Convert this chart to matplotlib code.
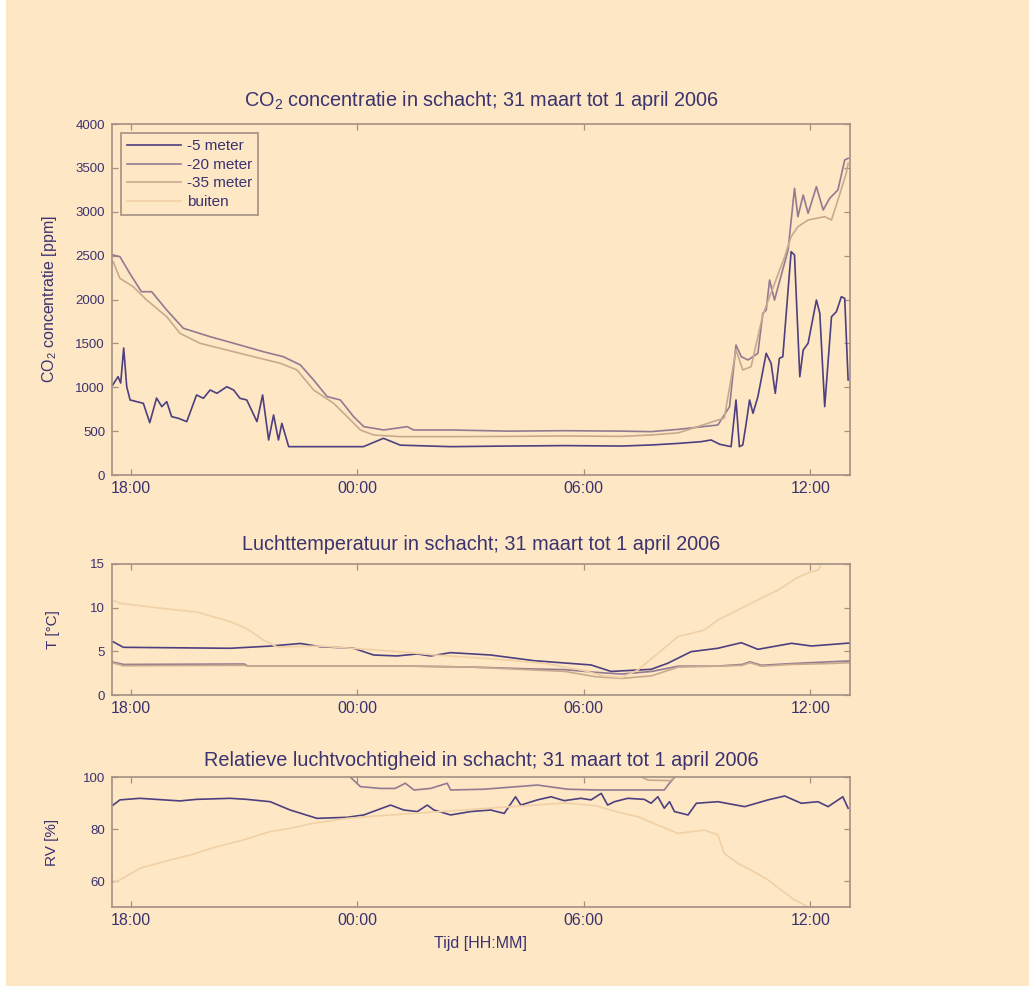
import matplotlib
matplotlib.use("Agg")
import matplotlib.pyplot as plt
from matplotlib.patches import Rectangle

# ---------------- data (time in hours relative to 1 April 2006 00:00) ----------------
series_labels = ["-5 meter", "-20 meter", "-35 meter", "buiten"]
tick_hours = [-6, 0, 6, 12]
tick_labels = ["18:00", "00:00", "06:00", "12:00"]

# CO2 [ppm]
co2_t_5 = [-6.48, -6.34, -6.27, -6.19, -6.11, -6.02, -5.67, -5.50, -5.32, -5.18, -5.05, -4.92,
           -4.74, -4.52, -4.26, -4.08, -3.90, -3.72, -3.46, -3.28, -3.11, -2.93, -2.66, -2.51,
           -2.35, -2.22, -2.09, -2.00, -1.82, 0.16, 0.69, 1.14, 2.47, 4.0, 5.5, 7.0, 7.78, 8.5,
           9.11, 9.37, 9.6, 9.90, 10.03, 10.12, 10.21, 10.30, 10.39, 10.48, 10.61, 10.83, 10.96,
           11.07, 11.18, 11.27, 11.49, 11.58, 11.72, 11.81, 11.94, 12.16, 12.25, 12.38, 12.56,
           12.69, 12.82, 12.91, 13.00]
co2_5 = [1026, 1120, 1048, 1447, 1006, 855, 817, 596, 877, 779, 836, 665,
         646, 608, 912, 874, 969, 931, 1006, 969, 874, 855, 608, 912,
         399, 684, 399, 589, 323, 323, 418, 340, 323, 330, 335, 330, 342, 360,
         380, 399, 350, 323, 855, 323, 342, 589, 855, 703, 893, 1387, 1273,
         931, 1330, 1348, 2545, 2507, 1120, 1424, 1501, 1994, 1843, 779, 1804,
         1861, 2032, 2013, 1083]

co2_t_20 = [-6.47, -6.29, -6.03, -5.72, -5.45, -5.05, -4.61, -3.90, -3.11, -2.49, -1.96, -1.51,
            -1.16, -0.80, -0.45, -0.10, 0.17, 0.70, 1.32, 1.49, 2.47, 4.0, 5.5, 7.0, 7.78, 8.5,
            9.55, 9.86, 10.03, 10.17, 10.35, 10.61, 10.74, 10.83, 10.92, 11.05, 11.41, 11.58,
            11.67, 11.81, 11.94, 12.16, 12.34, 12.51, 12.73, 12.91, 13.00]
co2_20 = [2507, 2488, 2298, 2089, 2089, 1880, 1672, 1576, 1481, 1405, 1348, 1254,
          1083, 893, 855, 665, 551, 513, 551, 513, 513, 500, 505, 500, 494, 520,
          570, 779, 1481, 1348, 1311, 1387, 1843, 1880, 2222, 1994, 2564, 3267,
          2944, 3191, 2982, 3286, 3020, 3153, 3248, 3590, 3609]

co2_t_35 = [-6.47, -6.29, -5.94, -5.58, -5.05, -4.70, -4.17, -3.28, -2.58, -2.04, -1.60, -1.16,
            -0.63, -0.27, 0.08, 0.43, 1.14, 2.47, 4.0, 5.5, 7.0, 7.78, 8.5, 9.72, 10.03, 10.21,
            10.43, 10.74, 10.92, 11.32, 11.49, 11.67, 11.94, 12.38, 12.56, 12.73, 12.95, 13.00]
co2_35 = [2431, 2241, 2146, 1994, 1804, 1615, 1501, 1405, 1330, 1273, 1197, 969,
          817, 665, 513, 456, 437, 437, 440, 445, 440, 456, 480, 650, 1424, 1197,
          1234, 1823, 2032, 2488, 2716, 2830, 2906, 2944, 2906, 3134, 3438, 3552]

# Temperature [deg C]
temp_t_5 = [-6.47, -6.2, -3.37, -2.31, -1.51, -0.98, -0.1, 0.43, 1.05, 1.58, 1.94, 2.47,
            3.53, 4.68, 6.19, 6.72, 7.78, 8.22, 8.84, 9.55, 10.17, 10.61, 11.5, 12.03, 12.95, 13.05]
temp_5 = [6.1, 5.46, 5.35, 5.6, 5.9, 5.53, 5.35, 4.58, 4.47, 4.7, 4.47, 4.85,
          4.58, 3.93, 3.44, 2.7, 2.94, 3.63, 4.96, 5.35, 5.99, 5.23, 5.92, 5.61, 5.92, 5.95]

temp_t_20 = [-6.5, -6.2, -3.0, -2.9, 1.5, 3.0, 4.5, 5.5, 6.3, 7.0, 7.8, 8.5, 9.5, 10.2,
             10.4, 10.7, 11.5, 12.5, 13.05]
temp_20 = [3.8, 3.5, 3.55, 3.3, 3.3, 3.2, 3.0, 2.9, 2.6, 2.4, 2.7, 3.3, 3.3, 3.5,
           3.8, 3.4, 3.6, 3.8, 3.9]

temp_t_35 = [-6.5, -6.2, -3.0, -2.9, 1.5, 3.0, 4.5, 5.5, 6.3, 7.0, 7.8, 8.5, 9.5, 10.2,
             10.4, 10.7, 11.5, 12.5, 13.05]
temp_35 = [3.7, 3.35, 3.4, 3.3, 3.3, 3.2, 2.9, 2.7, 2.1, 1.9, 2.2, 3.2, 3.3, 3.4,
           3.7, 3.3, 3.5, 3.6, 3.7]

temp_t_out = [-6.45, -6.29, -5.14, -4.26, -3.37, -2.93, -2.49, -2.13, -1.0, 0.0, 1.0, 2.0,
              3.0, 4.0, 5.0, 6.0, 6.5, 7.0, 7.43, 7.96, 8.49, 9.19, 9.55, 10.08, 10.61,
              11.14, 11.67, 12.02, 12.2, 12.3, 13.05]
temp_out = [10.8, 10.5, 9.9, 9.5, 8.4, 7.6, 6.3, 5.5, 5.6, 5.3, 5.0, 4.6,
            4.3, 4.0, 3.6, 2.8, 2.2, 2.0, 2.86, 4.77, 6.68, 7.44, 8.59, 9.73, 10.9,
            12.0, 13.5, 14.1, 14.3, 15.0, 15.6]

# Relative humidity [%]
rh_t_5 = [-6.47, -6.29, -5.76, -4.70, -4.26, -3.37, -2.93, -2.31, -1.78, -1.07, -0.27, 0.17,
          0.88, 1.23, 1.59, 1.85, 2.03, 2.47, 3.00, 3.53, 3.89, 4.19, 4.33, 4.77, 5.13, 5.48,
          5.92, 6.19, 6.46, 6.63, 6.81, 7.16, 7.60, 7.78, 7.96, 8.13, 8.27, 8.40, 8.76, 8.98,
          9.55, 10.26, 10.88, 11.32, 11.76, 12.20, 12.47, 12.86, 13.00]
rh_5 = [89.2, 91.2, 91.8, 90.8, 91.4, 91.8, 91.4, 90.5, 87.3, 84.1, 84.5, 85.4,
        89.2, 87.3, 86.7, 89.2, 87.3, 85.4, 86.7, 87.3, 86.0, 92.4, 89.2, 91.2, 92.4, 90.9,
        91.8, 91.2, 93.7, 89.2, 90.5, 91.8, 91.4, 89.9, 92.4, 88.0, 90.5, 86.7, 85.4, 89.9,
        90.5, 88.6, 91.2, 92.7, 89.9, 90.5, 88.6, 92.4, 88.0]

rh_t_20 = [-6.5, -0.5, -0.19, 0.08, 0.61, 1.0, 1.27, 1.5, 1.94, 2.38, 2.47, 3.35, 4.24,
           4.77, 5.57, 6.36, 7.33, 8.13, 8.26, 8.44, 8.6, 13.05]
rh_20 = [103, 103, 100, 96.3, 95.6, 95.6, 97.6, 95.0, 95.6, 97.6, 95.0, 95.3, 96.3,
         96.9, 95.3, 95.0, 95.0, 95.0, 97.5, 100.5, 103, 103]

rh_t_35 = [-6.5, 7.3, 7.5, 7.7, 8.3, 8.45, 8.7, 13.05]
rh_35 = [103, 103, 100.2, 98.8, 98.6, 100.5, 103, 103]

rh_t_out = [-6.45, -6.29, -5.76, -5.14, -4.43, -3.72, -3.02, -2.31, -1.78, -1.16, -0.27, 0.5,
            1.5, 2.5, 3.5, 4.5, 5.5, 6.3, 6.9, 7.43, 7.96, 8.49, 9.19, 9.55, 9.72, 10.08,
            10.43, 10.88, 11.23, 11.58, 11.85, 12.1]
rh_out = [59.5, 60.4, 64.9, 67.4, 70.0, 73.2, 75.8, 79.0, 80.3, 82.2, 84.1, 85.0,
          86.0, 87.0, 88.0, 89.0, 90.0, 89.0, 86.5, 84.7, 81.5, 78.3, 79.6, 77.7, 70.6, 66.8,
          64.2, 60.4, 56.5, 52.7, 50.8, 48.0]

# ---------------- style ----------------
BG = "#fde7c4"
TXT = "#3b3270"
SPINE = "#a39083"
COLORS = ["#4d3f80", "#927a92", "#c9a98e", "#f1d0a6"]
LW = 1.2

plt.rcParams["font.family"] = ["Liberation Sans", "DejaVu Sans"]
plt.rcParams["mathtext.default"] = "regular"

fig = plt.figure(figsize=(10.29, 9.86), dpi=100, facecolor=BG)
fig.patches.append(Rectangle((0, 0), 6 / 1029, 1, transform=fig.transFigure,
                             facecolor="white", edgecolor="none", zorder=-1))

L, W = 112 / 1029, 738 / 1029


def axes_at(top_px, bottom_px):
    return fig.add_axes([L, 1 - bottom_px / 986, W, (bottom_px - top_px) / 986])


def style(ax, ylim, yticks):
    ax.set_facecolor(BG)
    ax.set_xlim(-6.5, 13.05)
    ax.set_ylim(*ylim)
    ax.set_xticks(tick_hours)
    ax.set_xticklabels(tick_labels)
    ax.set_yticks(yticks)
    for s in ax.spines.values():
        s.set_color(SPINE)
        s.set_linewidth(1.2)
    ax.tick_params(direction="in", length=4, width=0.9, color=SPINE,
                   labelcolor=TXT, top=True, right=True)
    ax.tick_params(axis="x", labelsize=11.5, pad=4)
    ax.tick_params(axis="y", labelsize=9.5, pad=5)


# CO2
ax1 = axes_at(124, 475)
for t, v, c, lab in [(co2_t_5, co2_5, COLORS[0], series_labels[0]),
                     (co2_t_20, co2_20, COLORS[1], series_labels[1]),
                     (co2_t_35, co2_35, COLORS[2], series_labels[2])]:
    ax1.plot(t, v, color=c, lw=LW, label=lab)
ax1.plot([], [], color=COLORS[3], lw=LW, label=series_labels[3])
style(ax1, (0, 4000), list(range(0, 4001, 500)))
ax1.set_title("CO$_2$ concentratie in schacht; 31 maart tot 1 april 2006",
              color=TXT, fontsize=14.3, pad=13)
ax1.set_ylabel("CO$_2$ concentratie [ppm]", color=TXT, fontsize=11.5, labelpad=12)
leg = ax1.legend(loc="upper left", fontsize=11, frameon=True, fancybox=False,
                 handlelength=3.5, handletextpad=0.4, borderaxespad=0.6,
                 labelspacing=0.3, borderpad=0.4, bbox_to_anchor=(0.0, 1.0))
leg.get_frame().set_facecolor(BG)
leg.get_frame().set_edgecolor(SPINE)
leg.get_frame().set_linewidth(1.2)
leg.get_frame().set_alpha(1)
for txt in leg.get_texts():
    txt.set_color(TXT)

# Temperature
ax2 = axes_at(564, 695)
ax2.plot(temp_t_5, temp_5, color=COLORS[0], lw=LW)
ax2.plot(temp_t_20, temp_20, color=COLORS[1], lw=LW)
ax2.plot(temp_t_35, temp_35, color=COLORS[2], lw=LW)
ax2.plot(temp_t_out, temp_out, color=COLORS[3], lw=LW)
style(ax2, (0, 15), [0, 5, 10, 15])
ax2.set_title("Luchttemperatuur in schacht; 31 maart tot 1 april 2006",
              color=TXT, fontsize=14.3, pad=10)
ax2.set_ylabel("T [\u00b0C]", color=TXT, fontsize=11, labelpad=22)

# Relative humidity
ax3 = axes_at(777, 907)
ax3.plot(rh_t_5, rh_5, color=COLORS[0], lw=LW)
ax3.plot(rh_t_20, rh_20, color=COLORS[1], lw=LW)
ax3.plot(rh_t_35, rh_35, color=COLORS[2], lw=LW)
ax3.plot(rh_t_out, rh_out, color=COLORS[3], lw=LW)
style(ax3, (50, 100), [60, 80, 100])
ax3.set_title("Relatieve luchtvochtigheid in schacht; 31 maart tot 1 april 2006",
              color=TXT, fontsize=14.3, pad=8)
ax3.set_ylabel("RV [%]", color=TXT, fontsize=11, labelpad=17)
ax3.set_xlabel("Tijd [HH:MM]", color=TXT, fontsize=11.5, labelpad=6)

fig.savefig("out.png", dpi=100, facecolor=BG)
